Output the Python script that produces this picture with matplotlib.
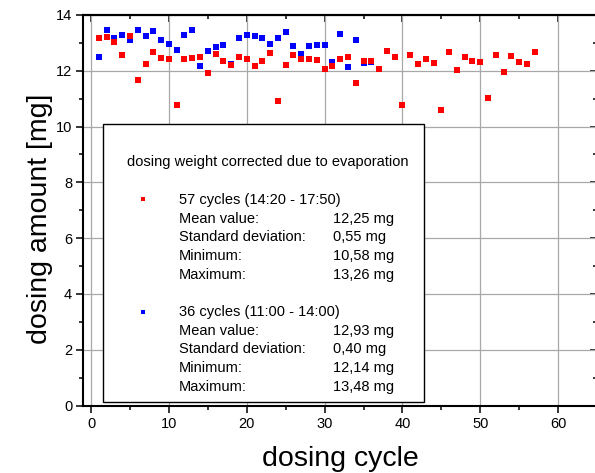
import numpy as np
import matplotlib
matplotlib.use("Agg")
import matplotlib.pyplot as plt
from matplotlib.patches import Rectangle
from matplotlib.ticker import MultipleLocator

plt.rcParams["font.family"] = ["Liberation Sans", "DejaVu Sans"]

# dosing weight per cycle, 14:20 - 17:50 (red)
red_mg = [13.16, 13.22, 13.02, 12.57, 13.26, 11.67, 12.24, 12.66, 12.45, 12.44,
          10.76, 12.43, 12.47, 12.50, 11.92, 12.60, 12.36, 12.20, 12.48, 12.41,
          12.16, 12.36, 12.65, 10.90, 12.20, 12.55, 12.41, 12.41, 12.37, 12.08,
          12.18, 12.44, 12.50, 11.56, 12.34, 12.36, 12.07, 12.71, 12.50, 10.79,
          12.55, 12.26, 12.41, 12.28, 10.58, 12.66, 12.04, 12.49, 12.34, 12.31,
          11.03, 12.55, 11.94, 12.53, 12.30, 12.26, 12.69]
# dosing weight per cycle, 11:00 - 14:00 (blue)
blue_mg = [12.50, 13.48, 13.19, 13.27, 13.12, 13.46, 13.25, 13.41, 13.12, 12.97,
           12.73, 13.27, 13.47, 12.17, 12.71, 12.86, 12.92, 12.26, 13.17, 13.30,
           13.23, 13.16, 12.95, 13.16, 13.38, 12.89, 12.59, 12.89, 12.92, 12.92,
           12.30, 13.31, 12.14, 13.10, 12.28, 12.30]
red_cycles = np.arange(1, len(red_mg) + 1)
blue_cycles = np.arange(1, len(blue_mg) + 1)

box_title = "dosing weight corrected due to evaporation"
red_stats = [("57 cycles (14:20 - 17:50)", ""),
             ("Mean value:", "12,25 mg"),
             ("Standard deviation:", "0,55 mg"),
             ("Minimum:", "10,58 mg"),
             ("Maximum:", "13,26 mg")]
blue_stats = [("36 cycles (11:00 - 14:00)", ""),
              ("Mean value:", "12,93 mg"),
              ("Standard deviation:", "0,40 mg"),
              ("Minimum:", "12,14 mg"),
              ("Maximum:", "13,48 mg")]

fig = plt.figure(figsize=(5.95, 4.73), dpi=100)
ax = fig.add_axes([83.3 / 595, 67.5 / 473, 513.7 / 595, 390.5 / 473])
ax.set_xlim(-1, 65)
ax.set_ylim(0, 14)

ax.xaxis.set_major_locator(MultipleLocator(10))
ax.xaxis.set_minor_locator(MultipleLocator(5))
ax.yaxis.set_major_locator(MultipleLocator(2))
ax.yaxis.set_minor_locator(MultipleLocator(1))
ax.grid(True, which="major", color="#a8a8a8", linewidth=0.9)
ax.set_axisbelow(True)
ax.tick_params(which="major", direction="out", length=5, width=1.1, labelsize=10.5, pad=3)
ax.tick_params(which="minor", direction="out", length=3, width=1.1)
for s in ax.spines.values():
    s.set_linewidth(1.5)

# inward ticks on top and right
top = ax.secondary_xaxis("top")
top.xaxis.set_major_locator(MultipleLocator(10))
top.xaxis.set_minor_locator(MultipleLocator(5))
top.tick_params(which="major", direction="in", length=5, width=1.1, labeltop=False)
top.tick_params(which="minor", direction="in", length=3, width=1.1)
top.spines["top"].set_linewidth(1.5)
right = ax.secondary_yaxis("right")
right.yaxis.set_major_locator(MultipleLocator(2))
right.yaxis.set_minor_locator(MultipleLocator(1))
right.tick_params(which="major", direction="in", length=5, width=1.1, labelright=False)
right.tick_params(which="minor", direction="in", length=3, width=1.1)

ax.plot(blue_cycles, blue_mg, "s", color="#0000ff", markersize=4, markeredgewidth=0, zorder=3)
ax.plot(red_cycles, red_mg, "s", color="#ff0000", markersize=4, markeredgewidth=0, zorder=3)

# info box
ax.add_patch(Rectangle((1.58, 0.115), 41.24, 9.97, facecolor="white",
                       edgecolor="black", linewidth=1.0, zorder=4))
ax.text(22.7, 8.72, box_title, ha="center", va="center", fontsize=10.5, zorder=5)

step = 0.67
for y0, stats, col in [(7.37, red_stats, "#ff0000"), (3.35, blue_stats, "#0000ff")]:
    ax.plot([6.72], [y0 + 0.02], "s", color=col, markersize=3.2, markeredgewidth=0, zorder=5)
    for i, (lab, val) in enumerate(stats):
        y = y0 - i * step
        ax.text(11.3, y, lab, ha="left", va="center", fontsize=10.5, zorder=5)
        if val:
            ax.text(31.1, y, val, ha="left", va="center", fontsize=10.5, zorder=5)

fig.text(340 / 595, 1 - 466 / 473, "dosing cycle", ha="center", va="baseline", fontsize=20.5)
fig.text(40 / 595, 1 - 219 / 473, "dosing amount [mg]", ha="center", va="center",
         rotation=90, fontsize=20.5)

fig.savefig("out.png", dpi=100)
